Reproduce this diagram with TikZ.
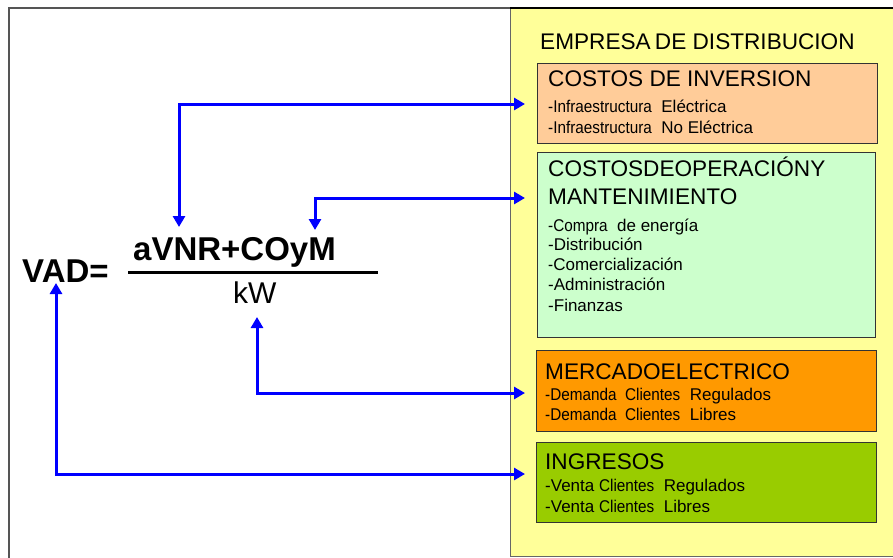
\documentclass[tikz,border=0pt]{standalone}
\usepackage{fontspec}
\usepackage{graphicx}
\setmainfont{Liberation Sans}
\usetikzlibrary{arrows.meta}
\definecolor{panelc}{HTML}{FFFF99}
\definecolor{invc}{HTML}{FFCC99}
\definecolor{opc}{HTML}{CCFFCC}
\definecolor{merc}{HTML}{FF9900}
\definecolor{ingc}{HTML}{99CC00}
\definecolor{arrowc}{HTML}{0000FF}
\definecolor{framec}{HTML}{555555}
\newcommand{\cnd}[1]{\scalebox{0.9}[1]{#1}}
\tikzset{
  boxc/.style={draw=black!80, line width=1.2pt, inner sep=0pt, anchor=north west},
  head/.style={anchor=base west, inner sep=0pt, font=\fontsize{22.6}{27}\selectfont},
  item/.style={anchor=base west, inner sep=0pt, font=\fontsize{17}{20}\selectfont},
  formula/.style={anchor=base west, inner sep=0pt, font=\fontsize{33}{39}\selectfont\bfseries},
  biarrow/.style={draw=arrowc, line width=3pt,
    {Triangle[length=11pt,width=12pt]}-{Triangle[length=11pt,width=12pt]}}
}
\begin{document}
\begin{tikzpicture}[x=1pt,y=-1pt]
\useasboundingbox (0,0) rectangle (893,557);
\clip (0,0) rectangle (893,557);
\fill[white] (0,0) rectangle (893,557);
% outer frame
\draw[framec, line width=1.2pt] (9,8) rectangle (950,620);
% panel
\node[draw=black!60, fill=panelc, line width=1.2pt, inner sep=0pt, anchor=north west,
  minimum width=400pt, minimum height=548pt] (panel) at (510,8) {};
\draw[black, line width=2pt] (510,8) -- (893,8);
\node[head] (title) at (540,49) {EMPRESA\hspace{-2pt} DE DISTRIBUCION};
% boxes
\node[boxc, fill=invc, minimum width=340pt, minimum height=80pt] (inv) at (537,63) {};
\node[boxc, fill=opc, minimum width=338pt, minimum height=185pt] (op) at (537,152) {};
\node[boxc, fill=merc, minimum width=340pt, minimum height=81pt] (mer) at (536,350) {};
\node[boxc, fill=ingc, minimum width=340pt, minimum height=80pt] (ing) at (536,442) {};
% box 1 text
\node[head] (h1) at (548,86) {COSTOS DE INVERSION};
\node[item] (i11) at (548,112) {\cnd{-Infraestructura}\ \ Eléctrica};
\node[item] (i12) at (548,133) {\cnd{-Infraestructura}\ \ No Eléctrica};
% box 2 text
\node[head] (h2a) at (548,176) {COSTOSDEOPERACIÓNY};
\node[head] (h2b) at (548,204) {MANTENIMIENTO};
\node[item] (i21) at (548,231) {\cnd{-Compra}\ \ de energía};
\node[item] (i22) at (548,250) {-Distribución};
\node[item] (i23) at (548,270) {\cnd{-}Comercialización};
\node[item] (i24) at (548,290) {-Administración};
\node[item] (i25) at (548,311) {-Finanzas};
% box 3 text
\node[head] (h3) at (545,379) {MERCADOELECTRICO};
\node[item] (i31) at (545,400) {\cnd{-Demanda\ \ Clientes}\ \ Regulados};
\node[item] (i32) at (545,420) {\cnd{-Demanda\ \ Clientes}\ \ Libres};
% box 4 text
\node[head] (h4) at (545,469) {INGRESOS};
\node[item] (i41) at (545,491) {-Venta \cnd{Clientes}\ \ Regulados};
\node[item] (i42) at (545,512) {-Venta \cnd{Clientes}\ \ Libres};
% formula
\node[formula] (vad) at (22,282) {VAD=};
\node[formula] (num) at (133,260) {aVNR+COyM};
\node[anchor=base west, inner sep=0pt, font=\fontsize{30}{36}\selectfont] (kw) at (233,303) {kW};
\draw[black, line width=3pt] (128,272) -- (378,272);
% connector ends
\coordinate (t1) at (179,227);
\coordinate (t2) at (315,230);
\coordinate (t3) at (257,317);
\coordinate (t4) at (56,283);
\coordinate (e1) at (525,104);
\coordinate (e2) at (525,198);
\coordinate (e3) at (525,393);
\coordinate (e4) at (525,474);
\draw[biarrow] (t1) |- (e1);
\draw[biarrow] (t2) |- (e2);
\draw[biarrow] (t3) |- (e3);
\draw[biarrow] (t4) |- (e4);
\end{tikzpicture}
\end{document}
